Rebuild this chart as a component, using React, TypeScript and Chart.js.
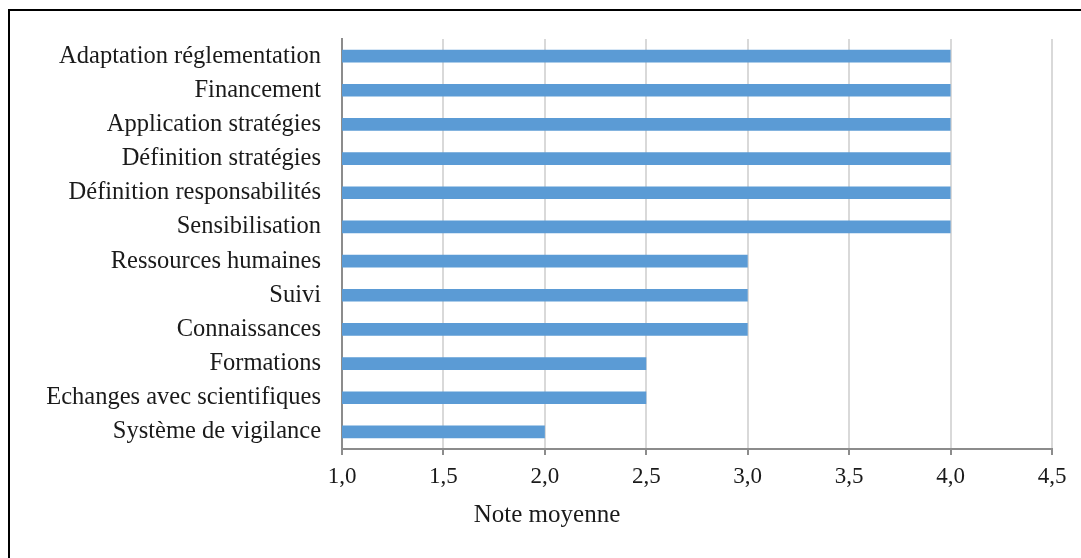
import React, { useEffect, useRef } from "react";
import { Chart, registerables } from "chart.js";

Chart.register(...registerables);

const categories = [
  "Adaptation réglementation",
  "Financement",
  "Application stratégies",
  "Définition stratégies",
  "Définition responsabilités",
  "Sensibilisation",
  "Ressources humaines",
  "Suivi",
  "Connaissances",
  "Formations",
  "Echanges avec scientifiques",
  "Système de vigilance",
];
const noteMoyenne = [4, 4, 4, 4, 4, 4, 3, 3, 3, 2.5, 2.5, 2];
const xTickLabels = ["1,0", "1,5", "2,0", "2,5", "3,0", "3,5", "4,0", "4,5"];
const xAxisTitle = "Note moyenne";

const FONT = "'Liberation Serif', 'Times New Roman', serif";

export default function App() {
  const ref = useRef<HTMLCanvasElement>(null);
  useEffect(() => {
    if (!ref.current) return;
    const titlePlugin = {
      id: "axisTitle",
      afterDraw(chart: any) {
        const ctx = chart.ctx;
        ctx.save();
        ctx.font = `25px ${FONT}`;
        ctx.fillStyle = "#1a1a1a";
        ctx.textAlign = "center";
        ctx.textBaseline = "alphabetic";
        ctx.fillText(xAxisTitle, 547, 522);
        ctx.restore();
      },
    };
    const chart = new Chart(ref.current, {
      type: "bar",
      data: {
        labels: categories,
        datasets: [
          {
            data: noteMoyenne,
            backgroundColor: "#5B9BD5",
            borderWidth: 0,
            categoryPercentage: 1,
            barPercentage: 0.37,
          },
        ],
      },
      options: {
        indexAxis: "y",
        animation: false,
        responsive: false,
        maintainAspectRatio: false,
        layout: { padding: { left: 0, right: 29, top: 39, bottom: 0 } },
        plugins: {
          legend: { display: false },
          tooltip: { enabled: false },
          title: { display: false },
        },
        scales: {
          x: {
            type: "linear",
            min: 1,
            max: 4.5,
            afterFit: (s: any) => {
              s.height = 109;
            },
            afterBuildTicks: (s: any) => {
              s.ticks = xTickLabels.map((_, i) => ({ value: 1 + i * 0.5 }));
            },
            ticks: {
              stepSize: 0.5,
              padding: 8,
              color: "#1a1a1a",
              font: { family: FONT, size: 23 },
              maxRotation: 0,
              callback: (_v: any, i: number) => xTickLabels[i],
            },
            grid: {
              color: "#d9d9d9",
              lineWidth: 2,
              drawTicks: true,
              tickLength: 6,
              tickColor: "#8c8c8c",
              tickWidth: 2,
            },
            border: { display: true, color: "#8c8c8c", width: 2 },
          },
          y: {
            type: "category",
            afterFit: (s: any) => {
              s.width = 342;
            },
            ticks: {
              padding: 21,
              color: "#1a1a1a",
              font: { family: FONT, size: 24.5 },
              autoSkip: false,
            },
            grid: { display: false, drawTicks: false },
            border: { display: true, color: "#8c8c8c", width: 2 },
          },
        },
      },
      plugins: [titlePlugin],
    } as any);
    return () => chart.destroy();
  }, []);

  return (
    <div
      style={{
        position: "fixed",
        left: 0,
        top: 0,
        width: 1081,
        height: 558,
        overflow: "hidden",
        background: "#fff",
      }}
    >
      <div
        style={{
          position: "absolute",
          left: 8,
          top: 9,
          width: 1200,
          height: 700,
          border: "2px solid #000",
        }}
      />
      <canvas
        ref={ref}
        width={1081}
        height={558}
        style={{ position: "absolute", left: 0, top: 0, width: 1081, height: 558 }}
      />
    </div>
  );
}
